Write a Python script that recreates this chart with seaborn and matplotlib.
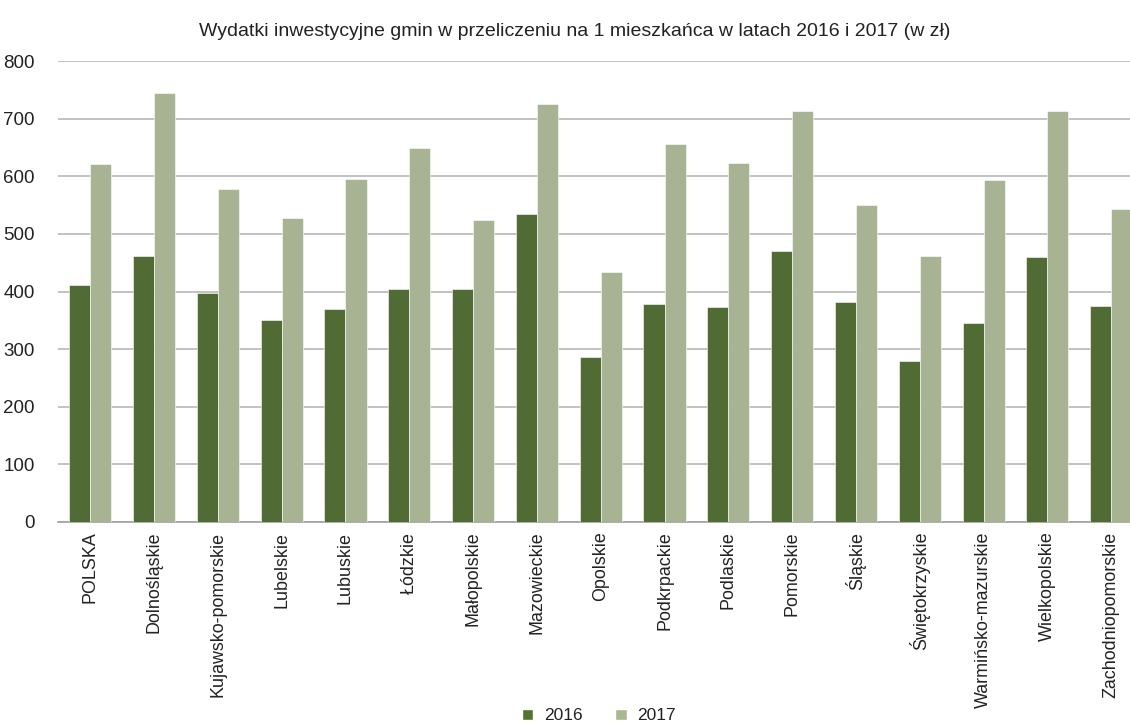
import pandas as pd
import matplotlib.pyplot as plt
import seaborn as sns
from matplotlib.patches import Patch

# Data
regiony = ["POLSKA", "Dolnośląskie", "Kujawsko-pomorskie", "Lubelskie", "Lubuskie",
           "Łódzkie", "Małopolskie", "Mazowieckie", "Opolskie", "Podkrpackie",
           "Podlaskie", "Pomorskie", "Śląskie", "Świętokrzyskie", "Warmińsko-mazurskie",
           "Wielkopolskie", "Zachodniopomorskie"]
wyd_2016 = [412, 462, 397, 350, 369, 405, 405, 534, 286, 379, 373, 470, 382, 280, 346, 460, 375]
wyd_2017 = [622, 744, 578, 527, 596, 649, 524, 726, 434, 656, 623, 713, 550, 462, 593, 714, 544]
lata = ["2016", "2017"]
kolory = ["#52742c", "#a9b88f"]

df = pd.DataFrame({
    "region": regiony * 2,
    "rok": [lata[0]] * len(regiony) + [lata[1]] * len(regiony),
    "wartosc": wyd_2016 + wyd_2017,
})

sns.set_style("white")
plt.rcParams['font.family'] = ['Liberation Sans', 'DejaVu Sans']
plt.rcParams['text.color'] = '#222222'

fig = plt.figure(figsize=(11.3, 7.27), dpi=100)
ax = fig.add_axes([0.0516, 0.282, 0.96, 0.634])

sns.barplot(data=df, x="region", y="wartosc", hue="rok", palette=kolory,
            width=0.66, gap=0, ax=ax, legend=False, zorder=3,
            edgecolor="#ffffff", linewidth=0.4)

ax.set_ylim(0, 800)
ax.set_xlim(-0.5, len(regiony) - 0.5)
ax.set_yticks(range(0, 801, 100))
ax.yaxis.grid(True, color="#b8b8b8", linewidth=1.2, zorder=0)
ax.set_axisbelow(True)
for s in ["top", "right", "left"]:
    ax.spines[s].set_visible(False)
ax.spines["bottom"].set_color("#a0a0a0")
ax.spines["bottom"].set_linewidth(1.2)

ax.set_xlabel("")
ax.set_ylabel("")
ax.tick_params(axis="y", length=0, labelsize=13.5, pad=17, labelcolor="#222222")
ax.tick_params(axis="x", which="major", length=0, labelsize=12.9, pad=7,
               labelrotation=90, labelcolor="#222222")
ax.set_xticks([i - 0.5 for i in range(len(regiony) + 1)], minor=True)
ax.tick_params(axis="x", which="minor", length=6, color="#a0a0a0", width=1.2)
for lab in ax.get_xticklabels():
    lab.set_verticalalignment("top")

fig.text(0.509, 1 - 32 / 727,
         "Wydatki inwestycyjne gmin w przeliczeniu na 1 mieszkańca w latach 2016 i 2017 (w zł)",
         ha="center", va="center", fontsize=14)

uchwyty = [Patch(facecolor=k, label=l) for k, l in zip(kolory, lata)]
fig.legend(handles=uchwyty, loc="center", bbox_to_anchor=(0.53, 1 - 716 / 727),
           ncol=2, frameon=False, fontsize=12.5, handlelength=0.65, handleheight=0.65,
           handletextpad=0.6, columnspacing=1.9)

fig.savefig("out.png", dpi=100)
